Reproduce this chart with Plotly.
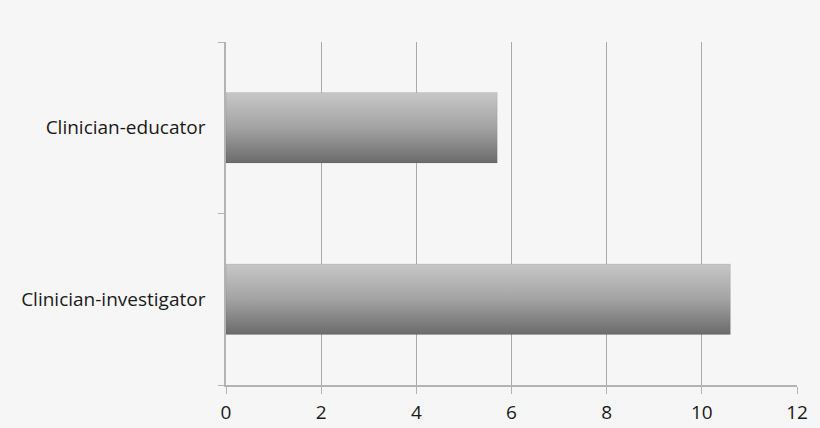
import plotly.graph_objects as go

categories = ["Clinician-investigator", "Clinician-educator"]
values = [10.6, 5.7]
x_ticks = [0, 2, 4, 6, 8, 10, 12]

positions = list(range(len(categories)))
half = 0.205

fig = go.Figure()
for pos, val in zip(positions, values):
    fig.add_trace(go.Scatter(
        x=[0, val, val, 0, 0],
        y=[pos - half, pos - half, pos + half, pos + half, pos - half],
        mode="lines",
        fill="toself",
        fillgradient=dict(type="vertical",
                          colorscale=[[0, "#6b6b6b"], [0.5, "#a3a3a3"], [1, "#c7c7c7"]]),
        line=dict(color="rgba(0,0,0,0.08)", width=1),
        hoverinfo="skip",
        showlegend=False,
    ))

fig.update_layout(
    width=820, height=428,
    margin=dict(l=226, r=23, t=42, b=43),
    paper_bgcolor="#f6f6f6",
    plot_bgcolor="#f6f6f6",
    font=dict(family="Open Sans, sans-serif", size=19, color="#1a1a1a"),
    showlegend=False,
)

fig.update_xaxes(
    range=[0, 12],
    tickvals=x_ticks,
    showgrid=True, gridcolor="#a9a9a9", gridwidth=1,
    showline=True, linecolor="#b3b3b3", linewidth=1.5,
    ticks="outside", ticklen=7, tickcolor="#b3b3b3",
    ticklabelstandoff=2,
    automargin=False,
    zeroline=False,
)

fig.update_yaxes(
    range=[-0.5, 1.5],
    tickvals=positions,
    ticktext=categories,
    ticks="",
    ticklabelstandoff=15,
    automargin=False,
    showgrid=False,
    showline=True, linecolor="#b3b3b3", linewidth=1.5,
    zeroline=False,
    minor=dict(tickvals=[-0.5, 0.5, 1.5], ticks="outside", ticklen=6,
               tickcolor="#b3b3b3", showgrid=False),
)

fig.write_html("out.html", config={"displayModeBar": False},
               post_script="document.body.style.margin='0';document.body.style.background='#f6f6f6';")
